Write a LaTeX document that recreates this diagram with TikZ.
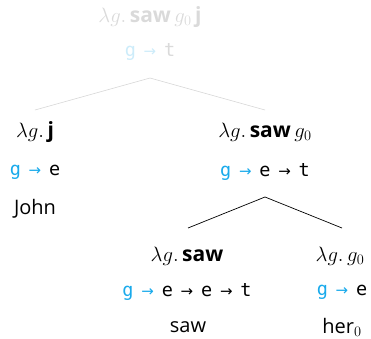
\documentclass[tikz,border=0pt]{standalone}
\usepackage{fontspec}
\setsansfont{Open Sans}
\setmonofont{DejaVu Sans Mono}[WordSpace=0.7]
\newfontfamily\arrfont{DejaVu Sans}
\definecolor{tyblue}{RGB}{25,170,235}
\definecolor{fadetext}{RGB}{218,218,218}
\definecolor{fadeblue}{RGB}{205,236,250}
\definecolor{fadeline}{RGB}{215,215,215}
\newcommand{\lexb}[1]{\textsf{\textbf{#1}}}
\newcommand{\arr}{{\fontsize{15}{15}\arrfont →}}
\tikzset{
  term/.style={inner sep=1pt, font=\fontsize{21}{25}\selectfont},
  ty/.style={inner sep=1pt, font=\ttfamily\fontsize{18.5}{22}\selectfont},
  word/.style={inner sep=1pt, font=\sffamily\fontsize{20}{24}\selectfont},
  fadeedge/.style={draw=fadeline, line width=0.6pt},
  edge/.style={draw=black, line width=0.7pt},
}
\begin{document}
\begin{tikzpicture}[x=1pt,y=-1pt]
\useasboundingbox (0,0) rectangle (371,338);
% top
\node[term, text=fadetext] (topterm) at (150,17) {$\lambda g.\,$\lexb{saw}$\,g_0\,$\lexb{j}};
\node[ty, text=fadetext] (topty) at (150,52) {{\color{fadeblue}g \arr} t};
% left
\node[term] (lterm) at (35,132) {$\lambda g.\,$\lexb{j}};
\node[ty] (lty) at (35,172) {{\color{tyblue}g \arr} e};
\node[word] (lword) at (35,209) {John};
% right
\node[term] (rterm) at (265,132) {$\lambda g.\,$\lexb{saw}$\,g_0$};
\node[ty] (rty) at (265,172) {{\color{tyblue}g \arr} e \arr{} t};
% bottom left
\node[term] (blterm) at (187,256) {$\lambda g.\,$\lexb{saw}};
\node[ty] (blty) at (187,292) {{\color{tyblue}g \arr} e \arr{} e \arr{} t};
\node[word] (blword) at (188,327) {saw};
% bottom right
\node[term] (brterm) at (340,256) {$\lambda g.\,g_0$};
\node[ty] (brty) at (342,292) {{\color{tyblue}g \arr} e};
\node[word] (brword) at (342,327) {her$_0$};
% edges
\coordinate (topapex) at (150,78);
\coordinate (lend) at (35,110);
\coordinate (rend) at (265,110);
\coordinate (rapex) at (265,197);
\coordinate (blend) at (188,228);
\coordinate (brend) at (342,228);
\draw[fadeedge] (lend) -- (topapex) -- (rend);
\draw[edge] (blend) -- (rapex) -- (brend);
\end{tikzpicture}
\end{document}
